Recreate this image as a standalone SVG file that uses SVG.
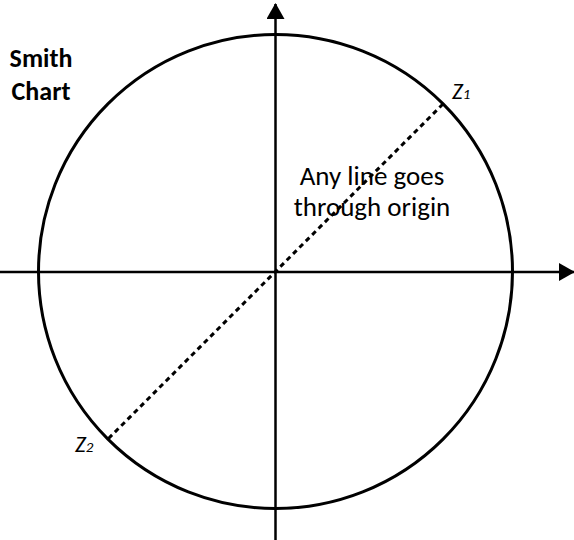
<svg xmlns="http://www.w3.org/2000/svg" width="574" height="540" viewBox="0 0 574 540">
  <style>
    .ax { stroke: #000; stroke-width: 2.5; fill: none; }
    .circ { stroke: #000; stroke-width: 3; fill: none; }
    .dash { stroke: #000; stroke-width: 3; stroke-dasharray: 5 4; fill: none; }
    .t { font-family: Carlito, Lato, "Liberation Sans", sans-serif; fill: #000; }
    .b { font-weight: bold; font-size: 26px; }
    .n { font-size: 27px; }
    .z { font-style: italic; font-size: 23px; }
  </style>
  <defs>
    <marker id="arr" viewBox="0 0 16 18" refX="15" refY="9" markerWidth="16" markerHeight="18" markerUnits="userSpaceOnUse" orient="auto">
      <path d="M0,0 L16,9 L0,18 Z" fill="#000"/>
    </marker>
  </defs>
  <g id="chart">
    <circle class="circ" cx="275.5" cy="271.5" r="237"/>
  </g>
  <g id="connectors">
    <line class="ax" x1="0" y1="272" x2="574" y2="272" marker-end="url(#arr)"/>
    <line class="ax" x1="275.5" y1="540" x2="275.5" y2="4" marker-end="url(#arr)"/>
    <line class="dash" x1="443" y1="104" x2="108" y2="439"/>
  </g>
  <g id="title">
    <text class="t b" x="41" y="67" text-anchor="middle">Smith</text>
    <text class="t b" x="41" y="100" text-anchor="middle">Chart</text>
  </g>
  <g id="label">
    <text class="t n" x="372" y="185" text-anchor="middle">Any line goes</text>
    <text class="t n" x="372" y="216" text-anchor="middle">through origin</text>
  </g>
  <g id="z1">
    <text class="t z" x="452" y="99">Z<tspan font-size="15">1</tspan></text>
  </g>
  <g id="z2">
    <text class="t z" x="75" y="452">Z<tspan font-size="15">2</tspan></text>
  </g>
</svg>
